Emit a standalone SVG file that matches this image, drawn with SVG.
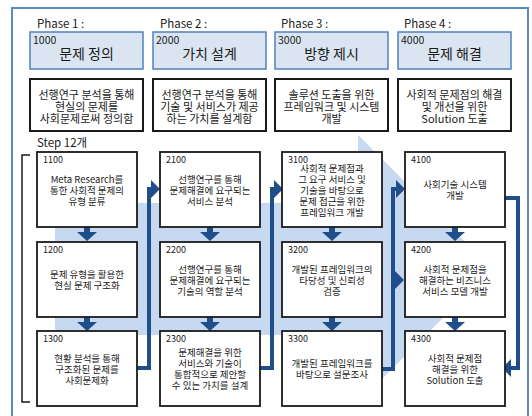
<svg xmlns="http://www.w3.org/2000/svg" width="532" height="416" viewBox="0 0 532 416">
<style>
.frame{fill:none;stroke:#5a8ac6;stroke-width:2}
.hdr{fill:#dbe5f1;stroke:#4f81bd;stroke-width:1.5}
.desc{fill:#fff;stroke:#1a1a1a;stroke-width:2}
.step{fill:#fff;stroke:#1a1a1a;stroke-width:1.8}
.conn{fill:none;stroke:#1f4e8a;stroke-width:4}
.ah{fill:#1f4e8a}
.bg{fill:#c6d9f1}
.br{fill:none;stroke:#1a1a1a;stroke-width:1.5}
text{font-family:"Noto Sans CJK KR","Noto Sans",sans-serif;fill:#1a1a1a}
.ph{font-size:11.5px}
.num{font-size:10.5px}
.ttl{font-size:14px;text-anchor:middle}
.dt{font-size:11px;text-anchor:middle}
.sn{font-size:9px}
.st{font-size:9.5px;text-anchor:middle}
</style>
<defs>
<path id="dn" class="ah" d="M-3,0 H3 V5 H10 L0,14 L-10,5 H-3 Z"/>
</defs>
<rect class="frame" x="12" y="8" width="516" height="420"/>
<path class="bg" d="M55,203 H358 V135 L492,269 L358,403 V335 H55 Z"/>

<g id="phase1">
<text class="ph" x="37" y="28">Phase 1 :</text>
<rect class="hdr" x="30" y="32" width="113" height="37"/>
<text class="num" x="33" y="44">1000</text>
<text class="ttl" x="86.5" y="59">문제 정의</text>
<rect class="desc" x="30" y="79" width="113" height="52"/>
<text class="dt" x="86.5" y="98.5"><tspan x="86.5">선행연구 분석을 통해</tspan><tspan x="86.5" dy="12">현실의 문제를</tspan><tspan x="86.5" dy="12">사회문제로써 정의함</tspan></text>
</g>
<g id="phase2">
<text class="ph" x="160" y="28">Phase 2 :</text>
<rect class="hdr" x="153" y="32" width="113" height="37"/>
<text class="num" x="156" y="44">2000</text>
<text class="ttl" x="209.5" y="59">가치 설계</text>
<rect class="desc" x="153" y="79" width="113" height="52"/>
<text class="dt" x="209.5" y="98.5"><tspan x="209.5">선행연구 분석을 통해</tspan><tspan x="209.5" dy="12">기술 및 서비스가 제공</tspan><tspan x="209.5" dy="12">하는 가치를 설계함</tspan></text>
</g>
<g id="phase3">
<text class="ph" x="281" y="28">Phase 3 :</text>
<rect class="hdr" x="275" y="32" width="113" height="37"/>
<text class="num" x="278" y="44">3000</text>
<text class="ttl" x="331.5" y="59">방향 제시</text>
<rect class="desc" x="275" y="79" width="113" height="52"/>
<text class="dt" x="331.5" y="98.5"><tspan x="331.5">솔루션 도출을 위한</tspan><tspan x="331.5" dy="12">프레임워크 및 시스템</tspan><tspan x="331.5" dy="12">개발</tspan></text>
</g>
<g id="phase4">
<text class="ph" x="404" y="28">Phase 4 :</text>
<rect class="hdr" x="398" y="32" width="113" height="37"/>
<text class="num" x="401" y="44">4000</text>
<text class="ttl" x="454.5" y="59">문제 해결</text>
<rect class="desc" x="398" y="79" width="113" height="52"/>
<text class="dt" x="454.5" y="98.5"><tspan x="454.5">사회적 문제점의 해결</tspan><tspan x="454.5" dy="12">및 개선을 위한</tspan><tspan x="454.5" dy="12">Solution 도출</tspan></text>
</g>

<g id="steps-label">
<text class="ph" x="37" y="147">Step 12개</text>
<path class="br" d="M30,155 H22 V402 H30"/>
</g>

<g id="connectors">
<use href="#dn" x="87" y="227"/>
<use href="#dn" x="87" y="317"/>
<use href="#dn" x="210" y="227"/>
<use href="#dn" x="210" y="317"/>
<use href="#dn" x="332" y="227"/>
<use href="#dn" x="332" y="317"/>
<use href="#dn" x="455" y="227"/>
<use href="#dn" x="455" y="317"/>
<path class="conn" d="M137,368 H149 V189 H153"/>
<polygon class="ah" points="151,180 160,189 151,198"/>
<path class="conn" d="M259,368 H272 V189 H276"/>
<polygon class="ah" points="274,180 283,189 274,198"/>
<path class="conn" d="M381,369 H393 V189 H398"/>
<polygon class="ah" points="396,180 405,189 396,198"/>
<polygon class="ah" points="395,271 404,280 395,289"/>
<path class="conn" d="M504,198 H518 V368 H509"/>
<polygon class="ah" points="511,359 502,368 511,377"/>
</g>

<g id="s1100">
<rect class="step" x="37" y="152" width="100" height="75"/>
<text class="sn" x="43" y="163">1100</text>
<text class="st" x="87" y="182.5"><tspan x="87">Meta Research를</tspan><tspan x="87" dy="11">통한 사회적 문제의</tspan><tspan x="87" dy="11">유형 분류</tspan></text>
</g>
<g id="s1200">
<rect class="step" x="37" y="242" width="100" height="75"/>
<text class="sn" x="43" y="253">1200</text>
<text class="st" x="87" y="278"><tspan x="87">문제 유형을 활용한</tspan><tspan x="87" dy="11">현실 문제 구조화</tspan></text>
</g>
<g id="s1300">
<rect class="step" x="37" y="331" width="100" height="75"/>
<text class="sn" x="43" y="342">1300</text>
<text class="st" x="87" y="361.5"><tspan x="87">현황 분석을 통해</tspan><tspan x="87" dy="11">구조화된 문제를</tspan><tspan x="87" dy="11">사회문제화</tspan></text>
</g>
<g id="s2100">
<rect class="step" x="160" y="152" width="100" height="75"/>
<text class="sn" x="166" y="163">2100</text>
<text class="st" x="210" y="182.5"><tspan x="210">선행연구를 통해</tspan><tspan x="210" dy="11">문제해결에 요구되는</tspan><tspan x="210" dy="11">서비스 분석</tspan></text>
</g>
<g id="s2200">
<rect class="step" x="160" y="242" width="100" height="75"/>
<text class="sn" x="166" y="253">2200</text>
<text class="st" x="210" y="272.5"><tspan x="210">선행연구를 통해</tspan><tspan x="210" dy="11">문제해결에 요구되는</tspan><tspan x="210" dy="11">기술의 역할 분석</tspan></text>
</g>
<g id="s2300">
<rect class="step" x="160" y="331" width="100" height="75"/>
<text class="sn" x="166" y="342">2300</text>
<text class="st" x="210" y="355.5"><tspan x="210">문제해결을 위한</tspan><tspan x="210" dy="11">서비스와 기술이</tspan><tspan x="210" dy="11">통합적으로 제안할</tspan><tspan x="210" dy="11">수 있는 가치를 설계</tspan></text>
</g>
<g id="s3100">
<rect class="step" x="282" y="152" width="100" height="75"/>
<text class="sn" x="288" y="163">3100</text>
<text class="st" x="332" y="171.5"><tspan x="332">사회적 문제점과</tspan><tspan x="332" dy="11">그 요구 서비스 및</tspan><tspan x="332" dy="11">기술을 바탕으로</tspan><tspan x="332" dy="11">문제 접근을 위한</tspan><tspan x="332" dy="11">프레임워크 개발</tspan></text>
</g>
<g id="s3200">
<rect class="step" x="282" y="242" width="100" height="75"/>
<text class="sn" x="288" y="253">3200</text>
<text class="st" x="332" y="272.5"><tspan x="332">개발된 프레임워크의</tspan><tspan x="332" dy="11">타당성 및 신뢰성</tspan><tspan x="332" dy="11">검증</tspan></text>
</g>
<g id="s3300">
<rect class="step" x="282" y="331" width="100" height="75"/>
<text class="sn" x="288" y="342">3300</text>
<text class="st" x="332" y="367"><tspan x="332">개발된 프레임워크를</tspan><tspan x="332" dy="11">바탕으로 설문조사</tspan></text>
</g>
<g id="s4100">
<rect class="step" x="405" y="152" width="100" height="75"/>
<text class="sn" x="411" y="163">4100</text>
<text class="st" x="455" y="188"><tspan x="455">사회기술 시스템</tspan><tspan x="455" dy="11">개발</tspan></text>
</g>
<g id="s4200">
<rect class="step" x="405" y="242" width="100" height="75"/>
<text class="sn" x="411" y="253">4200</text>
<text class="st" x="455" y="272.5"><tspan x="455">사회적 문제점을</tspan><tspan x="455" dy="11">해결하는 비즈니스</tspan><tspan x="455" dy="11">서비스 모델 개발</tspan></text>
</g>
<g id="s4300">
<rect class="step" x="405" y="331" width="100" height="75"/>
<text class="sn" x="411" y="342">4300</text>
<text class="st" x="455" y="361.5"><tspan x="455">사회적 문제점</tspan><tspan x="455" dy="11">해결을 위한</tspan><tspan x="455" dy="11">Solution 도출</tspan></text>
</g>
</svg>
